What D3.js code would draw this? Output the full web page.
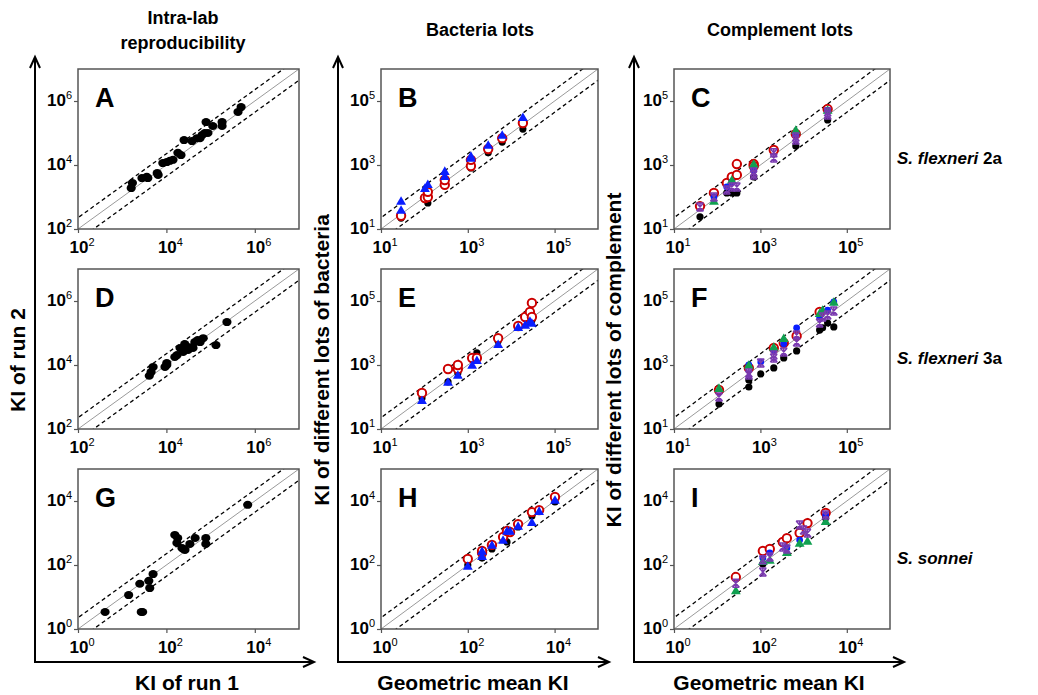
<!DOCTYPE html>
<html lang="en">
<head>
<meta charset="UTF-8">
<script src="https://d3js.org/d3.v7.min.js"></script>
<style>
  body { margin: 0; background: #fff; }
  text { font-family: "Liberation Sans", Arial, sans-serif; }
</style>
</head>
<body>
<svg width="1038" height="695"></svg>
<script>
// ---- data (KI values) ----
// intra-lab: [KI run 1, KI run 2]
var runA = [[1600,1900],[1700,2750],[2800,3900],[3600,4300],[3800,3900],[6200,5600],[6500,4900],
  [8300,11500],[10200,12300],[12000,13500],[14100,14500],[18200,24000],[21400,20400],[25100,60000],
  [38000,56000],[49000,69000],[57500,69000],[64600,87000],[74000,100000],[87000,100000],[79000,219000],
  [112000,166000],[182000,219000],[182000,166000],[417000,457000],[490000,646000]];
var runD = [[234000,219000],[132000,42000],[68000,69000],[51000,60000],[44000,52000],[58000,52000],
  [26000,45000],[20400,34000],[31000,29500],[24000,25700],[17400,20400],[15500,17800],[10200,11500],
  [9300,8700],[10200,10000],[5000,8700],[4500,6000],[4100,4600],[40000,34000],[34000,36000]];
var runG = [[4.1,3.4],[27,3.4],[29,3.4],[14,11.5],[25,26],[42,19],[40,32],[50,52],[155,870],[180,700],
  [173,490],[225,340],[263,295],[340,457],[447,700],[780,700],[780,457],[240,320],[6900,7600]];

// bacteria lots: [geometric mean KI, KI of lot]
var bactB_black = [[29,22],[120,65],[295,275],[1180,810],[2950,2400],[6200,5200],[18600,13300]];
var bactB_red = [[29,26],[103,93],[120,100],[120,145],[295,240],[295,340],[1180,930],[1180,1450],
  [2950,3160],[6200,6900],[18600,20500]];
var bactB_blue = [[29,65],[29,34],[103,165],[120,218],[295,390],[295,560],[1180,1450],[1180,1660],
  [2950,3650],[6200,7500],[18600,27000]];

var bactE_black = [[88,93],[350,295],[590,560],[1620,2400],[5000,5600],[27000,21900],[30000,25000]];
var bactE_red = [[88,134],[350,750],[590,750],[590,1000],[1260,1660],[1620,1660],[5000,6900],
  [14500,16600],[21000,31600],[27000,45700],[30000,87000],[30000,31600]];
var bactE_blue = [[88,69],[350,255],[590,425],[1260,870],[1620,1230],[5000,3900],[14500,13300],
  [21000,15500],[27000,20500],[30000,18000]];

var bactH_black = [[100,100],[213,165],[360,316],[800,525],[1440,1550],[3000,3400],[10200,9300]];
var bactH_red = [[100,155],[213,240],[213,275],[360,425],[650,750],[800,1150],[940,1070],[1440,1900],
  [3000,4500],[4400,5200],[10200,13300]];
var bactH_blue = [[100,81],[213,240],[213,165],[360,365],[650,525],[800,1000],[940,1000],[1440,1440],
  [3000,1900],[4400,4200],[10200,9300]];

// complement lots: [geometric mean KI, KI of lot]
var compC_black = [[40,24],[167,134],[218,134],[285,134],[700,425],[6600,3900],[36000,25700]];
var compC_red = [[40,52],[84,134],[167,275],[218,425],[285,490],[285,1070],[700,1070],[700,930],
  [2040,2950],[6600,9300],[36000,56000]];
var compC_blue = [[84,100],[167,205],[218,295],[700,690],[6600,9300],[36000,52000]];
var compC_green = [[84,65],[218,295],[700,930],[6600,10700],[36000,45700]];
var compC_purple = [[40,49],[84,100],[167,165],[218,205],[285,205],[700,600],[700,490],[2040,2400],
  [2040,1660],[6600,7500],[6600,6000],[36000,45700],[36000,36300]];

var compF_black = [[110,60],[540,340],[540,205],[1020,525],[2040,810],[3470,1660],[6900,2750],
  [23500,12300],[27500,14500],[36000,20500],[50000,15500]];
var compF_red = [[110,165],[540,810],[2040,3400],[3470,4900],[6900,8100],[23500,45700]];
var compF_blue = [[540,1000],[1020,1230],[2040,2950],[3470,4600],[6900,14500],[23500,31600],
  [36000,52000],[50000,93000]];
var compF_green = [[110,165],[540,870],[2040,3160],[3470,6000],[23500,36300],[27500,45700],[50000,81000]];
var compF_purple = [[110,100],[540,560],[540,490],[1020,1150],[2040,1660],[2040,2040],[3470,2570],
  [6900,8700],[6900,5200],[23500,20500],[27500,31600],[36000,36300],[50000,49000]];

var compI_black = [[114,107],[3240,2950]];
var compI_red = [[27,42],[114,275],[165,316],[330,525],[410,690],[810,1000],[1230,2040],[3240,4260]];
var compI_blue = [[114,165],[165,240],[410,340],[810,600],[3240,3650]];
var compI_green = [[27,14],[114,115],[165,124],[410,220],[810,425],[1230,490],[3240,2040]];
var compI_purple = [[27,27],[114,60],[114,145],[165,178],[330,365],[410,316],[810,1780],[1000,1230],
  [1230,1000],[3240,3650]];

var panelLetters = ["A","B","C","D","E","F","G","H","I"];
var lowExp = [2,1,1, 2,1,1, 0,0,0];   // lowest decade of each panel (5 decades shown)
var colTitles = [["Intra-lab","reproducibility"],["Bacteria lots"],["Complement lots"]];
var strains = [["S. flexneri"," 2a"],["S. flexneri"," 3a"],["S. sonnei",""]];
var foldBand = 2.25;  // dashed lines

var svg = d3.select("svg");
var cols = [[78,299],[381,598],[674,890]];
var rows = [[69,229],[269,429],[469,629]];

var series = [
  [{d:runA,m:"dot"}],
  [{d:bactB_black,m:"black"},{d:bactB_red,m:"red"},{d:bactB_blue,m:"blueTri"}],
  [{d:compC_black,m:"black"},{d:compC_red,m:"red"},{d:compC_blue,m:"blueDot"},{d:compC_green,m:"greenTri"},{d:compC_purple,m:"purple"}],
  [{d:runD,m:"dot"}],
  [{d:bactE_black,m:"black"},{d:bactE_red,m:"red"},{d:bactE_blue,m:"blueTri"}],
  [{d:compF_black,m:"black"},{d:compF_red,m:"red"},{d:compF_blue,m:"blueDot"},{d:compF_green,m:"greenTri"},{d:compF_purple,m:"purple"}],
  [{d:runG,m:"dot"}],
  [{d:bactH_black,m:"black"},{d:bactH_red,m:"red"},{d:bactH_blue,m:"blueTri"}],
  [{d:compI_black,m:"black"},{d:compI_red,m:"red"},{d:compI_blue,m:"blueDot"},{d:compI_green,m:"greenTri"},{d:compI_purple,m:"purple"}]
];

function powLabel(sel, exp, anchor) {
  sel.attr("font-weight", "bold").attr("fill", "#000").attr("text-anchor", anchor);
  sel.append("tspan").attr("font-size", 17).text("10");
  sel.append("tspan").attr("font-size", 11).attr("font-weight", "normal").attr("dy", -7).text(exp);
}

function drawMark(g, m, cx, cy) {
  if (m === "dot") {
    g.append("ellipse").attr("cx", cx).attr("cy", cy).attr("rx", 4.6).attr("ry", 4).attr("fill", "#000");
  } else if (m === "black") {
    g.append("circle").attr("cx", cx).attr("cy", cy).attr("r", 3.6).attr("fill", "#000");
  } else if (m === "red") {
    g.append("circle").attr("cx", cx).attr("cy", cy).attr("r", 4.2).attr("fill", "#fff")
      .attr("stroke", "#cc0000").attr("stroke-width", 2);
  } else if (m === "blueDot") {
    g.append("circle").attr("cx", cx).attr("cy", cy).attr("r", 3.4).attr("fill", "#0a1eff");
  } else if (m === "blueTri" || m === "greenTri") {
    g.append("path").attr("d", d3.symbol(d3.symbolTriangle, 42)())
      .attr("transform", "translate(" + cx + "," + (cy - 1) + ")")
      .attr("fill", m === "blueTri" ? "#0a1eff" : "#10a050");
  } else if (m === "purple") {
    g.append("path")
      .attr("d", "M-3.5,-4L3.5,-4M-3.5,4L3.5,4M-3.5,-4L3.5,4M3.5,-4L-3.5,4M0,-4L0,4")
      .attr("transform", "translate(" + cx + "," + cy + ")")
      .attr("stroke", "#7a3ab0").attr("stroke-width", 1.5).attr("fill", "none");
  }
}

panelLetters.forEach(function(letter, i) {
  var c = cols[i % 3], r = rows[Math.floor(i / 3)], lo = lowExp[i];
  var x = d3.scaleLog().domain([Math.pow(10, lo), Math.pow(10, lo + 5)]).range([c[0], c[1]]);
  var y = d3.scaleLog().domain([Math.pow(10, lo), Math.pow(10, lo + 5)]).range([r[1], r[0]]);
  var ticks = [lo, lo + 2, lo + 4];
  var g = svg.append("g");

  g.append("clipPath").attr("id", "clip" + letter).append("rect")
    .attr("x", c[0]).attr("y", r[0]).attr("width", c[1] - c[0]).attr("height", r[1] - r[0]);

  // axis ticks
  var xa = g.append("g").attr("transform", "translate(0," + r[1] + ")")
    .call(d3.axisBottom(x).tickValues(ticks.map(function(e){ return Math.pow(10, e); }))
      .tickSize(4).tickSizeOuter(0).tickFormat(""));
  var ya = g.append("g").attr("transform", "translate(" + c[0] + ",0)")
    .call(d3.axisLeft(y).tickValues(ticks.map(function(e){ return Math.pow(10, e); }))
      .tickSize(4).tickSizeOuter(0).tickFormat(""));
  [xa, ya].forEach(function(a) {
    a.select(".domain").remove();
    a.selectAll("line").attr("stroke", "#555").attr("stroke-width", 1.2);
  });
  ticks.forEach(function(e) {
    powLabel(g.append("text").attr("x", x(Math.pow(10, e)) + 4).attr("y", r[1] + 24), e, "middle");
    powLabel(g.append("text").attr("x", c[0] - 6).attr("y", y(Math.pow(10, e)) + 5), e, "end");
  });

  // reference lines: identity and fold band
  var lo10 = Math.pow(10, lo), hi10 = Math.pow(10, lo + 5);
  var line = d3.line().x(function(d){ return x(d[0]); }).y(function(d){ return y(d[1]); });
  var lines = g.append("g").attr("clip-path", "url(#clip" + letter + ")");
  lines.append("path").attr("d", line([[lo10, lo10], [hi10, hi10]]))
    .attr("stroke", "#9a9a9a").attr("stroke-width", 1).attr("fill", "none");
  [foldBand, 1 / foldBand].forEach(function(k) {
    lines.append("path").attr("d", line([[lo10 / 10, lo10 / 10 * k], [hi10 * 10, hi10 * 10 * k]]))
      .attr("stroke", "#000").attr("stroke-width", 1.3).attr("stroke-dasharray", "4,3").attr("fill", "none");
  });

  g.append("rect").attr("x", c[0]).attr("y", r[0]).attr("width", c[1] - c[0]).attr("height", r[1] - r[0])
    .attr("fill", "none").attr("stroke", "#555").attr("stroke-width", 1.5);

  var pts = g.append("g");
  series[i].forEach(function(s) {
    s.d.forEach(function(p) { drawMark(pts, s.m, x(p[0]), y(p[1])); });
  });

  g.append("text").attr("x", c[0] + 17).attr("y", r[0] + 38).attr("font-size", 27)
    .attr("font-weight", "bold").text(letter);
});

// outer axes with arrows
var outer = [[35, 313], [338, 608], [634, 903]];
outer.forEach(function(o) {
  svg.append("path")
    .attr("d", "M" + o[0] + ",58L" + o[0] + ",662L" + o[1] + ",662")
    .attr("stroke", "#000").attr("stroke-width", 2).attr("fill", "none");
  svg.append("path")
    .attr("d", "M" + (o[0] - 5) + ",68L" + o[0] + ",57L" + (o[0] + 5) + ",68M" +
      (o[1] - 10) + ",657L" + (o[1] + 1) + ",662L" + (o[1] - 10) + ",667")
    .attr("stroke", "#000").attr("stroke-width", 2).attr("fill", "none");
});

// column titles
var titleX = [183, 480, 780];
colTitles.forEach(function(lines, i) {
  lines.forEach(function(t, j) {
    svg.append("text").attr("x", titleX[i]).attr("y", lines.length > 1 ? 24 + j * 25 : 36)
      .attr("text-anchor", "middle").attr("font-size", 18).attr("font-weight", "bold").text(t);
  });
});

// axis titles
var xTitles = [["KI of run 1", 187], ["Geometric mean KI", 473], ["Geometric mean KI", 769]];
xTitles.forEach(function(t) {
  svg.append("text").attr("x", t[1]).attr("y", 690).attr("text-anchor", "middle")
    .attr("font-size", 21).attr("font-weight", "bold").text(t[0]);
});
var yTitles = [["KI of run 2", 25], ["KI of different lots of bacteria", 329], ["KI of different lots of complement", 621]];
yTitles.forEach(function(t) {
  svg.append("text").attr("transform", "translate(" + t[1] + ",360) rotate(-90)")
    .attr("text-anchor", "middle").attr("font-size", 21).attr("font-weight", "bold").text(t[0]);
});

// strain labels
strains.forEach(function(s, i) {
  var t = svg.append("text").attr("x", 897).attr("y", 164 + i * 200)
    .attr("font-size", 17).attr("font-weight", "bold");
  t.append("tspan").attr("font-style", "italic").text(s[0]);
  t.append("tspan").text(s[1]);
});
</script>
</body>
</html>
